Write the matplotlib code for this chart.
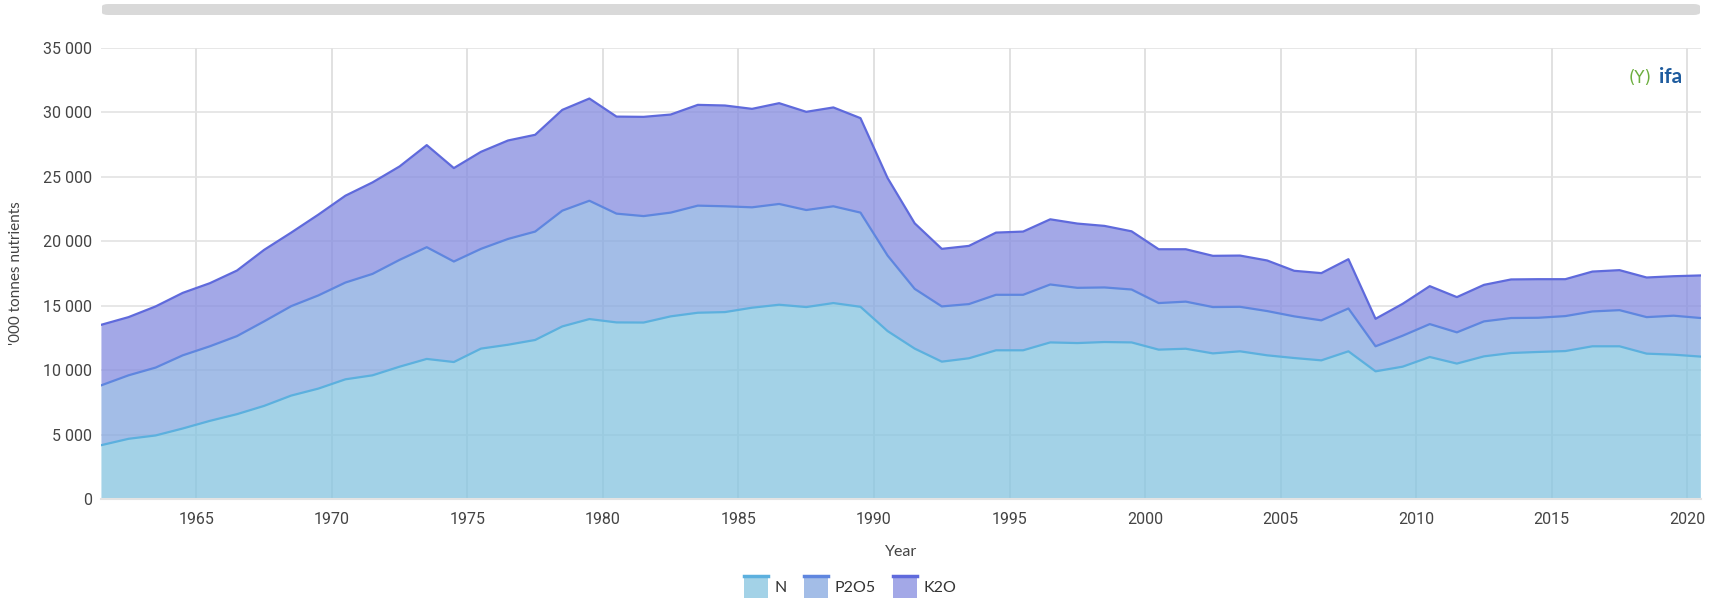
import numpy as np
import matplotlib
matplotlib.use("Agg")
import matplotlib.pyplot as plt
from matplotlib.patches import Rectangle, FancyBboxPatch
from matplotlib.lines import Line2D
from matplotlib.legend_handler import HandlerBase
from matplotlib.ticker import FuncFormatter

years = list(range(1961, 2021))

# '000 tonnes nutrients
n_vals = [4200, 4690, 4950, 5490, 6080, 6600, 7240, 8040, 8580, 9300,
          9610, 10280, 10880, 10640, 11680, 11980, 12350, 13400, 13970, 13710,
          13700, 14180, 14460, 14510, 14850, 15080, 14900, 15210, 14920, 13040,
          11680, 10670, 10930, 11550, 11550, 12160, 12110, 12190, 12160, 11600,
          11670, 11310, 11470, 11160, 10950, 10770, 11470, 9920, 10280, 11030,
          10520, 11080, 11340, 11420, 11490, 11860, 11860, 11290, 11210, 11060]
p2o5_vals = [4640, 4920, 5260, 5670, 5780, 6050, 6550, 6930, 7220, 7500,
             7860, 8280, 8660, 7790, 7730, 8200, 8400, 8970, 9170, 8430,
             8250, 8040, 8300, 8200, 7780, 7810, 7520, 7500, 7300, 5850,
             4630, 4280, 4200, 4300, 4300, 4490, 4280, 4230, 4100, 3610,
             3650, 3590, 3450, 3430, 3230, 3100, 3320, 1940, 2400, 2550,
             2420, 2710, 2710, 2650, 2710, 2700, 2800, 2830, 3020, 2990]
k2o_vals = [4690, 4510, 4740, 4840, 4890, 5080, 5540, 5700, 6260, 6730,
            7090, 7240, 7910, 7240, 7520, 7630, 7500, 7810, 7920, 7520,
            7690, 7600, 7810, 7810, 7630, 7810, 7610, 7660, 7320, 6010,
            5080, 4460, 4510, 4820, 4900, 5050, 4980, 4770, 4510, 4170,
            4060, 3970, 3970, 3920, 3530, 3660, 3820, 2130, 2470, 2940,
            2730, 2830, 2990, 2990, 2860, 3090, 3100, 3070, 3060, 3300]

series_names = ["N", "P2O5", "K2O"]
fill_colors = ["#84c4e0", "#84a7e0", "#848be0"]
line_colors = ["#5cb0de", "#5f86df", "#5f6adc"]

# yearly values sit in the middle of each year
x = np.array(years) + 0.5
data = np.array([n_vals, p2o5_vals, k2o_vals])
tops = np.cumsum(data, axis=0)

fig = plt.figure(figsize=(17.25, 6), dpi=100)
ax = fig.add_axes([0.0588, 0.1678, 0.9272, 0.7527])

ax.stackplot(x, data, colors=fill_colors, alpha=0.75, zorder=2)
for top, c in zip(tops, line_colors):
    ax.plot(x, top, color=c, lw=1.6, zorder=3)

ax.set_xlim(x[0], x[-1])
ax.set_ylim(0, 35000)
ax.set_xticks(range(1965, 2021, 5))
ax.set_yticks(range(0, 35001, 5000))
ax.yaxis.set_major_formatter(FuncFormatter(lambda v, p: f"{int(v):,}".replace(",", " ")))
ax.grid(True, axis="y", color="#e3e3e3", lw=1.2, zorder=0)
ax.grid(True, axis="x", color="#d9d9d9", lw=1.1, zorder=0)
ax.set_axisbelow(True)
for s in ["top", "right", "left"]:
    ax.spines[s].set_visible(False)
ax.spines["bottom"].set_color("#e3e3e3")
ax.spines["bottom"].set_linewidth(1.5)
ax.tick_params(length=0, labelsize=11.5, labelcolor="#444444")
ax.tick_params(axis="y", pad=7)
ax.tick_params(axis="x", pad=9)
for lab in ax.get_xticklabels() + ax.get_yticklabels():
    lab.set_family("Roboto")

ax.set_xlabel("Year", fontsize=11.5, color="#444444", family="Lato", labelpad=13)
ax.set_ylabel("'000 tonnes nutrients", fontsize=11, color="#444444", family="Lato", labelpad=14)


class AreaHandler(HandlerBase):
    def __init__(self, fill, line):
        super().__init__()
        self.fill = fill
        self.line = line

    def create_artists(self, legend, orig_handle, xdescent, ydescent, width, height, fontsize, trans):
        r = Rectangle((-xdescent, -ydescent), width, height, facecolor=self.fill,
                      alpha=0.75, edgecolor="none", transform=trans)
        l = Line2D([-xdescent, -xdescent + width], [height - ydescent] * 2,
                   color=self.line, lw=2.5, transform=trans)
        return [r, l]


handles = [Rectangle((0, 0), 1, 1) for _ in series_names]
handler_map = {h: AreaHandler(f, l) for h, f, l in zip(handles, fill_colors, line_colors)}
fig.legend(handles, series_names, handler_map=handler_map, loc="center",
           bbox_to_anchor=(0.493, 1 - 587 / 600), ncol=3, frameon=False,
           prop={"family": "Lato", "size": 11.5}, labelcolor="#333333",
           handlelength=1.5, handleheight=1.7, handletextpad=0.4, columnspacing=1.1)

# scrollbar strip above the chart
fig.patches.append(FancyBboxPatch((102 / 1725, 1 - 15 / 600), 1598 / 1725, 11 / 600,
                                  boxstyle="round,pad=0,rounding_size=0.004",
                                  transform=fig.transFigure, facecolor="#d9d9d9",
                                  edgecolor="none"))

# ifa logo
ax.text(0.988, 0.957, "ifa", transform=ax.transAxes, ha="right", va="top",
        fontsize=15, fontweight="bold", color="#1f5c9e", family="Lato")
ax.text(0.969, 0.952, "(Y)", transform=ax.transAxes, ha="right", va="top",
        fontsize=12, color="#6cae3e", family="DejaVu Sans")

fig.savefig("out.png", dpi=100, facecolor="white")
